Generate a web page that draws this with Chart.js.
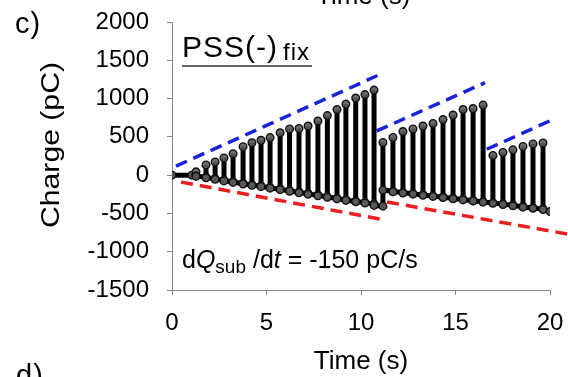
<!DOCTYPE html>
<html>
<head>
<meta charset="utf-8">
<script src="https://cdn.jsdelivr.net/npm/chart.js@4.4.1/dist/chart.umd.min.js"></script>
<style>
  html, body { margin: 0; padding: 0; background: #fff; overflow: hidden; }
  #wrap { position: relative; width: 568px; height: 377px; overflow: hidden; font-family: 'Liberation Sans', Arial, sans-serif; color: #000; }
  #c { position: absolute; left: 0; top: 0; }
  .t { position: absolute; white-space: nowrap; line-height: 1; }
</style>
</head>
<body>
<div id="wrap">
  <canvas id="c" width="568" height="377"></canvas>
  <div class="t" style="left:316px; top:-18px; font-size:26px;">Time (s)</div>
  <div class="t" style="left:15px; top:9px; font-size:29px; letter-spacing:1px;">c)</div>
  <div class="t" style="left:16px; top:361px; font-size:29px; letter-spacing:1px;">d)</div>
  <div class="t" style="left:50px; top:145px; font-size:26px; transform: translate(-50%,-50%) rotate(-90deg) scaleX(1.16);">Charge (pC)</div>
  <div class="t" style="left:182px; top:32px; font-size:30px; letter-spacing:1px;">PSS(-)<span style="font-size:24px; position:relative; top:3px; margin-left:5px; letter-spacing:1px;">fix</span></div>
  <div style="position:absolute; left:182px; top:65px; width:130px; height:0; border-top:2px solid #666;"></div>
  <div class="t" style="left:182px; top:247px; font-size:25px;">d<i>Q</i><span style="font-size:19px; position:relative; top:5px;">sub</span> /d<i>t</i> = -150 pC/s</div>
</div>
<script>
// ---- data ----
const xTicks = [0, 5, 10, 15, 20];
const yTicks = [-1500, -1000, -500, 0, 500, 1000, 1500, 2000];

const leadTime = [0, 1.05];
const leadCharge = [0, 0];

const spikeTime = [1.27, 1.80, 2.28, 2.75, 3.23, 3.76, 4.23, 4.71, 5.19, 5.72, 6.22, 6.72, 7.20, 7.72, 8.22, 8.73, 9.20, 9.72, 10.21, 10.69,
                   11.16, 11.69, 12.22, 12.75, 13.28, 13.81, 14.34, 14.87, 15.40, 15.93, 16.46,
                   16.98, 17.51, 18.04, 18.57, 19.10, 19.63];
const spikePeak = [43, 134, 173, 225, 280, 372, 423, 455, 490, 553, 603, 610, 642, 707, 778, 857, 928, 1007, 1052, 1111,
                   427, 492, 570, 603, 642, 675, 727, 785, 857, 870, 915,
                   258, 297, 330, 375, 408, 421];
const spikeRise = [-5, -25, -45, -65, -85, -105, -125, -140, -160, -180, -200, -220, -240, -260, -280, -300, -320, -340, -355, -375,
                   -405, -210, -225, -240, -255, -270, -285, -300, -315, -330, -345,
                   -360, -375, -390, -410, -425, -440];
const spikeFall = [-15, -35, -55, -75, -95, -115, -133, -150, -170, -190, -210, -230, -250, -270, -290, -310, -330, -348, -365, -395,
                   -195, -218, -233, -248, -263, -278, -293, -308, -323, -338, -353,
                   -368, -383, -400, -418, -433, -450];
const tailTime = [20.0];
const tailCharge = [-475];

const blueTime = [[0.21, 11.0], [10.83, 16.56], [16.65, 20.26]];
const blueCharge = [[117, 1315], [577, 1207], [338, 738]];
const redTime = [[0.48, 11.0], [11.38, 20.9]];
const redCharge = [[-91, -573], [-351, -768]];

// ---- build datasets ----
const trace = [];
leadTime.forEach((t, i) => trace.push({x: t, y: leadCharge[i]}));
spikeTime.forEach((t, i) => {
  trace.push({x: t, y: spikeRise[i]});
  trace.push({x: t, y: spikePeak[i]});
  trace.push({x: t, y: spikeFall[i]});
});
tailTime.forEach((t, i) => trace.push({x: t, y: tailCharge[i]}));

function guide(ts, qs, color) {
  return {
    data: ts.map((t, i) => ({x: t, y: qs[i]})),
    showLine: true, borderColor: color, borderWidth: 3.5, borderDash: [12, 7],
    pointRadius: 0, clip: false, order: 2
  };
}

const datasets = [];
blueTime.forEach((ts, i) => datasets.push(guide(ts, blueCharge[i], 'rgb(25,35,215)')));
redTime.forEach((ts, i) => datasets.push(guide(ts, redCharge[i], 'rgb(235,30,30)')));
datasets.push({
  data: trace, showLine: true, borderColor: '#000', borderWidth: 5,
  pointRadius: 3.8, pointBorderColor: '#111', pointBorderWidth: 1.4,
  pointBackgroundColor: 'rgba(90,90,90,0.9)', order: 1
});

const font = {family: "'Liberation Sans', Arial, sans-serif", size: 24};
const noPad = s => { s.paddingTop = 0; s.paddingBottom = 0; s.paddingLeft = 0; s.paddingRight = 0; };

new Chart(document.getElementById('c'), {
  type: 'scatter',
  data: {datasets},
  options: {
    responsive: false, animation: false, devicePixelRatio: 1,
    layout: {padding: {left: 0, top: 22, right: 18, bottom: 0}},
    plugins: {legend: {display: false}, tooltip: {enabled: false}},
    scales: {
      x: {
        type: 'linear', min: 0, max: 20,
        afterBuildTicks: s => { s.ticks = xTicks.map(v => ({value: v})); },
        afterFit: s => { s.height = 87; noPad(s); },
        ticks: {font, color: '#000', padding: 14, callback: v => String(v), maxRotation: 0},
        grid: {drawOnChartArea: false, drawTicks: true, tickLength: 5, color: '#888'},
        border: {color: '#888', width: 1},
        title: {display: true, text: 'Time (s)', color: '#000', padding: {top: 0, bottom: 0},
                font: {family: font.family, size: 26}}
      },
      y: {
        type: 'linear', min: -1500, max: 2000,
        afterBuildTicks: s => { s.ticks = yTicks.map(v => ({value: v})); },
        afterFit: s => { s.width = 172; noPad(s); },
        ticks: {font, color: '#000', padding: 18, callback: v => String(v)},
        grid: {drawOnChartArea: false, drawTicks: true, tickLength: 5, color: '#888'},
        border: {color: '#888', width: 1}
      }
    }
  }
});
</script>
</body>
</html>
